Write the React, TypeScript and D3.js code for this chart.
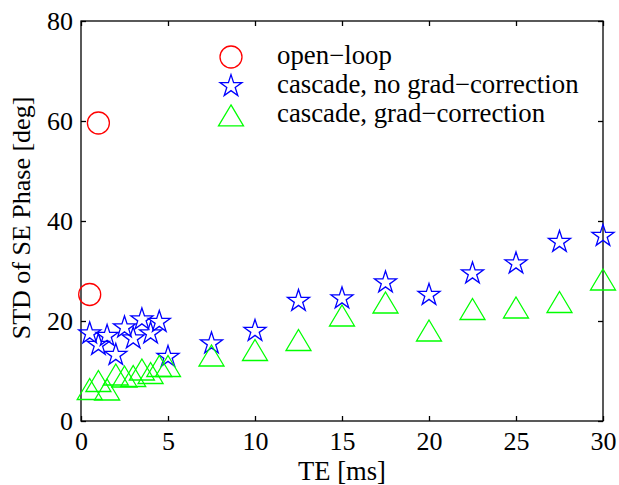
import * as d3 from "d3";
import { useEffect, useRef } from "react";

// TE values [ms]
const teOpen = [0.5, 1];
const stdOpen = [25.3, 59.6];

const teCascade = [0.5, 1, 1.5, 2, 2.5, 3, 3.5, 4, 4.5, 5, 7.5, 10, 12.5, 15, 17.5, 20, 22.5, 25, 27.5, 30];
const stdNoGrad = [17.5, 15.2, 17, 13.2, 18.7, 16.5, 20.3, 17.5, 19.8, 12.8, 15.5, 18, 24, 24.5, 27.7, 25.2, 29.5, 31.5, 35.8, 37];
const stdGrad = [6.4, 8, 6.3, 9.3, 8.9, 9, 10.3, 9.6, 11, 11, 13.1, 14.2, 16.2, 21.1, 23.7, 18.1, 22.4, 22.7, 23.8, 28.3];

const xTicks = [0, 5, 10, 15, 20, 25, 30];
const yTicks = [0, 20, 40, 60, 80];
const legendLabels = ["open\u2212loop", "cascade, no grad\u2212correction", "cascade, grad\u2212correction"];

function App() {
  const ref = useRef<SVGSVGElement>(null);

  useEffect(() => {
    const width = 619;
    const height = 485;
    const margin = { top: 21, right: 16, bottom: 64, left: 81 };
    const w = width - margin.left - margin.right;
    const h = height - margin.top - margin.bottom;
    const font = "'Liberation Serif', 'Times New Roman', serif";

    const svg = d3.select(ref.current);
    svg.selectAll("*").remove();

    const g = svg.append("g").attr("transform", `translate(${margin.left},${margin.top})`);

    const x = d3.scaleLinear().domain([0, 30]).range([0, w]);
    const y = d3.scaleLinear().domain([0, 80]).range([h, 0]);

    // axes with inward ticks
    const styleAxis = (sel: any) => {
      sel.select(".domain").remove();
      sel.selectAll(".tick line").attr("stroke", "#000").attr("stroke-width", 1.3);
      sel.selectAll("text").attr("font-family", font).attr("font-size", 26).attr("fill", "#000");
    };

    g.append("g")
      .attr("transform", `translate(0,${h})`)
      .call(d3.axisBottom(x).tickValues(xTicks).tickSize(-5).tickSizeOuter(0).tickPadding(11))
      .call(styleAxis);
    g.append("g")
      .call(d3.axisLeft(y).tickValues(yTicks).tickSize(-5).tickSizeOuter(0).tickPadding(8))
      .call(styleAxis);
    g.append("g")
      .call(d3.axisTop(x).tickValues(xTicks).tickSize(-5).tickSizeOuter(0).tickFormat(() => ""))
      .call(styleAxis);
    g.append("g")
      .attr("transform", `translate(${w},0)`)
      .call(d3.axisRight(y).tickValues(yTicks).tickSize(-5).tickSizeOuter(0).tickFormat(() => ""))
      .call(styleAxis);

    g.append("rect")
      .attr("width", w)
      .attr("height", h)
      .attr("fill", "none")
      .attr("stroke", "#000")
      .attr("stroke-width", 1.3);

    // marker shapes
    const star = d3.symbol().type(d3.symbolStar).size(150)();
    const tri = "M0,-10.5L12.5,10.5L-12.5,10.5Z";

    const drawCircles = (sel: any, cx: number, cy: number) =>
      sel.append("circle").attr("cx", cx).attr("cy", cy).attr("r", 11)
        .attr("fill", "none").attr("stroke", "#ff0000").attr("stroke-width", 1.3);
    const drawStar = (sel: any, cx: number, cy: number) =>
      sel.append("path").attr("d", star).attr("transform", `translate(${cx},${cy})`)
        .attr("fill", "none").attr("stroke", "#0000ff").attr("stroke-width", 1.3);
    const drawTri = (sel: any, cx: number, cy: number) =>
      sel.append("path").attr("d", tri).attr("transform", `translate(${cx},${cy})`)
        .attr("fill", "none").attr("stroke", "#00ff00").attr("stroke-width", 1.3);

    teOpen.forEach((t, i) => drawCircles(g, x(t), y(stdOpen[i])));
    teCascade.forEach((t, i) => drawStar(g, x(t), y(stdNoGrad[i])));
    teCascade.forEach((t, i) => drawTri(g, x(t), y(stdGrad[i])));

    // legend (no box)
    const legend = svg.append("g").attr("transform", "translate(231,57)");
    const drawers = [drawCircles, drawStar, drawTri];
    legendLabels.forEach((label, i) => {
      drawers[i](legend, 0, i * 29.2);
      legend.append("text")
        .attr("x", 46)
        .attr("y", i * 29.2 + 6.5)
        .attr("font-family", font)
        .attr("font-size", 26.8)
        .text(label);
    });

    // axis titles
    svg.append("text")
      .attr("x", margin.left + w / 2)
      .attr("y", 480)
      .attr("text-anchor", "middle")
      .attr("font-family", font)
      .attr("font-size", 26.6)
      .text("TE [ms]");
    svg.append("text")
      .attr("transform", "translate(30,218) rotate(-90)")
      .attr("text-anchor", "middle")
      .attr("font-family", font)
      .attr("font-size", 26)
      .text("STD of SE Phase [deg]");
  }, []);

  return (
    <div>
      <svg ref={ref} width={619} height={485} style={{ position: "absolute", left: 0, top: 0, background: "#fff" }} />
    </div>
  );
}

export default App;
